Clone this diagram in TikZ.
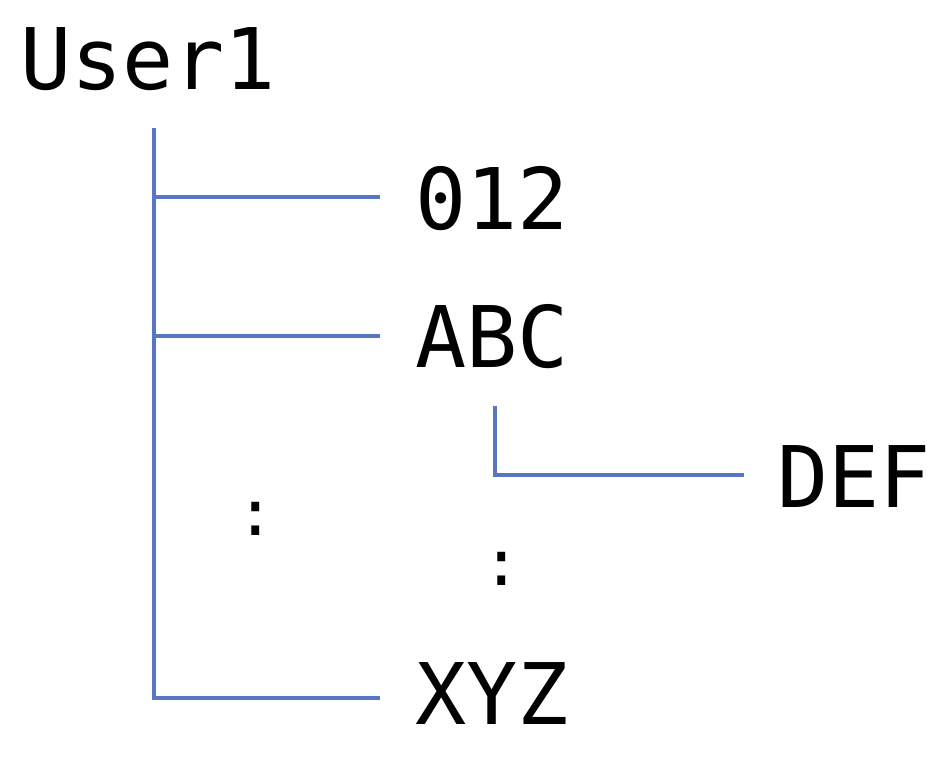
\documentclass[tikz,border=0pt]{standalone}
\usepackage{fontspec}
\setmonofont{DejaVu Sans Mono}
\definecolor{lineblue}{RGB}{88,118,196}
\begin{document}
\begin{tikzpicture}[x=1pt,y=-1pt,
  lbl/.style={font=\fontsize{85}{96}\selectfont\ttfamily, inner sep=0pt, anchor=base west},
  dots/.style={font=\fontsize{64}{72}\selectfont\ttfamily, inner sep=0pt, anchor=base},
  conn/.style={draw=lineblue, line width=4pt}]
\useasboundingbox (0,0) rectangle (952,761);
\node[lbl] (user) at (20,89) {User1};
\node[lbl] (n012) at (415,229) {012};
\node[lbl] (abc) at (415,367) {ABC};
\node[lbl] (def) at (777,507) {DEF};
\node[lbl] (xyz) at (415,724) {XYZ};
\node[dots] (d1) at (256,535) {:};
\node[dots] (d2) at (502,585) {:};
\coordinate (ttop) at (154,128);
\coordinate (tbot) at (154,698);
\coordinate (b012) at (154,197);
\coordinate (babc) at (154,336);
\coordinate (e012) at (380,197);
\coordinate (eabc) at (380,336);
\coordinate (exyz) at (380,698);
\coordinate (stop) at (495,406);
\coordinate (scor) at (495,475);
\coordinate (edef) at (744,475);
\draw[conn] (ttop) -- (tbot) -- (exyz);
\draw[conn] (b012) -- (e012);
\draw[conn] (babc) -- (eabc);
\draw[conn] (stop) -- (scor) -- (edef);
\end{tikzpicture}
\end{document}
